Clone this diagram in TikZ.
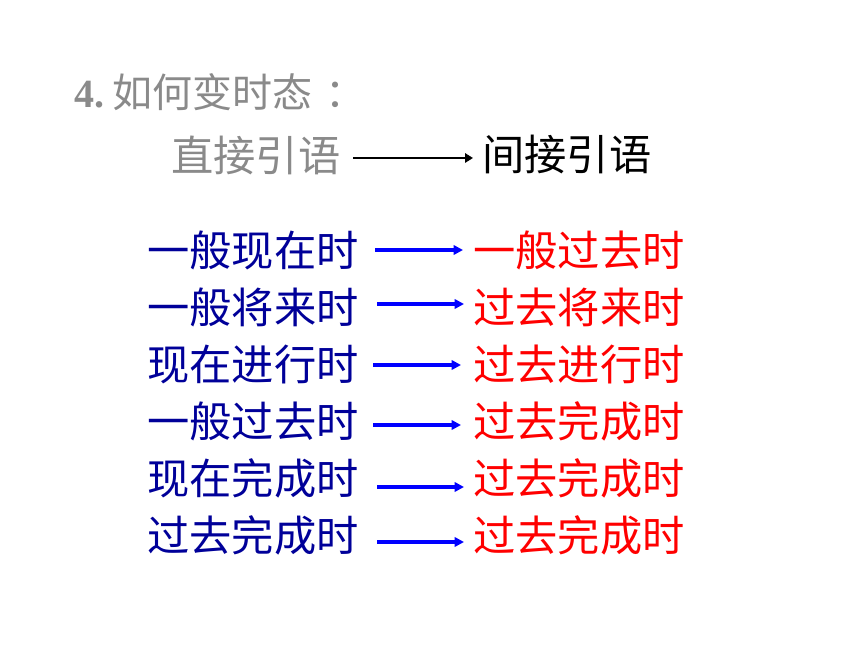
\documentclass[tikz,border=0pt]{standalone}
\usepackage{fontspec}
\setmainfont{Liberation Serif}
\newfontfamily\cjk{Noto Sans CJK SC}
\usetikzlibrary{arrows.meta}
\definecolor{titlegray}{HTML}{8A8A8A}
\definecolor{darkblue}{HTML}{000099}
\definecolor{arrowblue}{HTML}{0000FF}
\definecolor{tensered}{HTML}{FF0000}
\tikzset{
  txt/.style={anchor=west, inner sep=0pt, font=\cjk\fontsize{31.7pt}{34pt}\selectfont},
  lefttxt/.style={txt, text=darkblue},
  righttxt/.style={txt, text=tensered},
  bluearrow/.style={draw=arrowblue, line width=2.3pt, -{Triangle[length=7pt,width=7pt]}},
  blackarrow/.style={draw=black, line width=2.2pt, -{Triangle[length=6pt,width=7pt]}}
}
\begin{document}
\begin{tikzpicture}[x=0.75pt,y=-0.75pt]
\useasboundingbox (0,0) rectangle (860,645);
\node[anchor=west, inner sep=0pt, text=titlegray] (title) at (74,92)
  {\fontsize{30pt}{32pt}\selectfont\textbf{4.}\hspace{6pt}{\cjk 如何变时态\hspace{10pt}：}};
\node[txt, text=titlegray] (direct) at (171,155) {直接引语};
\node[txt, text=black] (indirect) at (482,155) {间接引语};
\coordinate (ds) at (353,158);
\coordinate (de) at (473,158);
\draw[blackarrow] (ds) -- (de);

\node[lefttxt] (l1) at (147,250) {一般现在时};
\node[lefttxt] (l2) at (147,307) {一般将来时};
\node[lefttxt] (l3) at (147,364) {现在进行时};
\node[lefttxt] (l4) at (147,421) {一般过去时};
\node[lefttxt] (l5) at (147,478) {现在完成时};
\node[lefttxt] (l6) at (147,535) {过去完成时};

\node[righttxt] (r1) at (473,250) {一般过去时};
\node[righttxt] (r2) at (473,307) {过去将来时};
\node[righttxt] (r3) at (473,364) {过去进行时};
\node[righttxt] (r4) at (473,421) {过去完成时};
\node[righttxt] (r5) at (473,478) {过去完成时};
\node[righttxt] (r6) at (473,535) {过去完成时};

\coordinate (s1) at (375,250); \coordinate (e1) at (463,250);
\coordinate (s2) at (377,304); \coordinate (e2) at (464,304);
\coordinate (s3) at (373,365); \coordinate (e3) at (461,365);
\coordinate (s4) at (373,425); \coordinate (e4) at (461,425);
\coordinate (s5) at (377,487); \coordinate (e5) at (464,487);
\coordinate (s6) at (377,542); \coordinate (e6) at (464,542);
\foreach \i in {1,...,6} {\draw[bluearrow] (s\i) -- (e\i);}
\end{tikzpicture}
\end{document}
